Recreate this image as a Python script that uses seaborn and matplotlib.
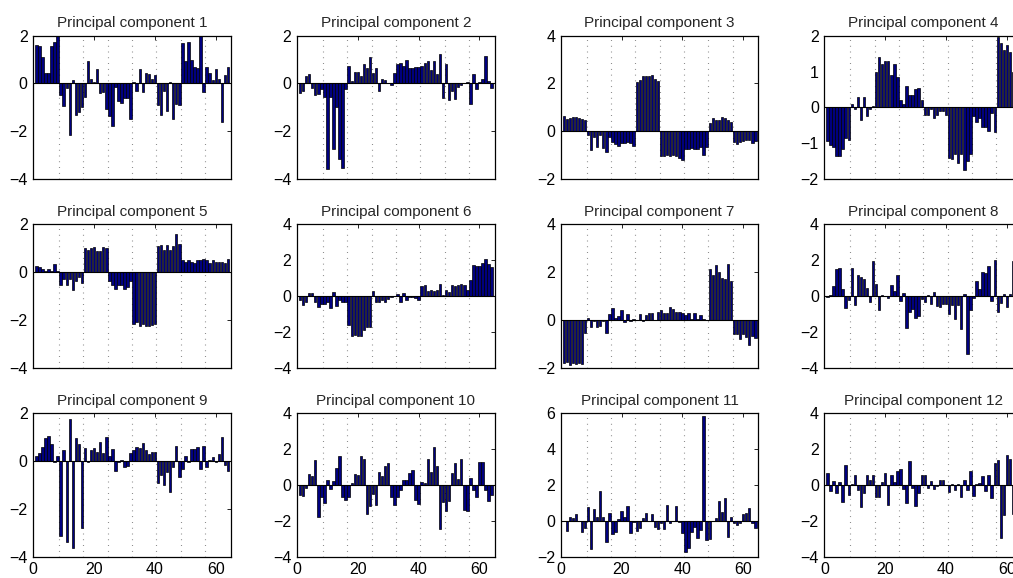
import numpy as np
import pandas as pd
import matplotlib
matplotlib.use("Agg")
import matplotlib.pyplot as plt
import seaborn as sns

# Loadings of the first twelve principal components on 64 variables
variables = np.arange(1, 65)

pc1 = [1.6, 1.55, 1.1, 0.45, 0.45, 1.55, 1.75, 2.0,
       -0.5, -0.95, -0.2, -2.15, 0.15, -1.3, -1.2, -1.0,
       -0.55, 0.95, 0.2, 0.05, 0.6, -0.4, -0.35, -1.05,
       -1.35, -1.8, -0.15, -0.75, -0.8, -0.6, -0.6, -1.5,
       0.05, -0.3, 0.6, -0.35, 0.45, 0.4, 0.2, 0.35,
       -0.9, -1.3, -0.3, -1.15, 0.05, -1.5, -0.85, -0.9,
       1.7, 0.95, 1.75, 1.0, 0.7, 0.65, 2.0, -0.35,
       0.7, 0.45, 0.15, 0.6, 0.2, -1.6, 0.35, 0.7]
pc2 = [-0.4, -0.3, 0.3, 0.4, -0.2, -0.5, -0.45, -0.25,
       -0.55, -3.6, -0.55, -2.75, -1.0, -3.15, -3.55, -0.25,
       0.75, 0.1, 0.5, 0.5, 0.3, 0.8, 0.65, 1.1,
       0.45, 0.65, -0.3, 0.2, 0.15, 0.0, -0.05, 0.45,
       0.8, 0.85, 0.75, 1.0, 0.65, 0.65, 0.7, 0.7,
       0.75, 0.85, 0.95, 0.55, 0.95, 0.4, 1.25, -0.6,
       0.8, -0.7, -0.3, -0.65, -0.15, -0.05, 0.0, 0.05,
       -0.85, 0.4, -0.25, 0.05, 0.2, 1.15, 0.1, -0.2]
pc3 = [0.65, 0.5, 0.55, 0.6, 0.6, 0.55, 0.5, 0.45,
       -0.15, -0.8, -0.25, -0.65, -0.15, -0.7, -0.85, -0.25,
       -0.45, -0.55, -0.6, -0.5, -0.5, -0.45, -0.5, -0.6,
       2.05, 2.15, 2.3, 2.3, 2.3, 2.35, 2.2, 2.1,
       -1.05, -1.05, -1.0, -1.05, -1.0, -1.05, -1.1, -1.2,
       -0.75, -0.75, -0.7, -0.75, -0.75, -0.65, -1.0, -0.65,
       0.35, 0.55, 0.45, 0.45, 0.6, 0.55, 0.45, 0.4,
       -0.45, -0.55, -0.45, -0.4, -0.35, -0.35, -0.5, -0.4]
pc4 = [-0.95, -1.05, -1.1, -1.35, -1.35, -1.15, -0.85, -0.9,
       0.1, -0.05, 0.3, -0.35, 0.3, -0.25, -0.05, 0.05,
       1.0, 1.4, 1.2, 1.3, 1.3, 0.9, 1.2, 0.85,
       0.2, 0.1, 0.6, 0.35, 0.35, 0.5, 0.55, 0.2,
       -0.2, -0.2, -0.05, -0.3, -0.2, -0.1, -0.1, -0.2,
       -1.4, -1.45, -1.3, -1.55, -1.3, -1.75, -1.5, -1.3,
       -0.25, -0.4, -0.3, -0.55, -0.55, -0.65, -0.15, -0.7,
       1.95, 1.8, 1.6, 1.75, 1.55, 1.0, 1.5, 1.6]
pc5 = [0.25, 0.2, 0.15, 0.05, 0.15, 0.05, 0.35, 0.05,
       -0.55, -0.3, -0.55, -0.3, -0.75, -0.35, -0.2, -0.45,
       1.0, 0.95, 1.0, 1.05, 0.9, 0.9, 1.05, 1.0,
       -0.35, -0.55, -0.7, -0.55, -0.55, -0.7, -0.6, -0.35,
       -2.15, -2.1, -2.25, -2.15, -2.25, -2.25, -2.2, -2.15,
       1.1, 1.15, 0.95, 1.15, 0.95, 1.1, 1.6, 1.2,
       0.5, 0.45, 0.5, 0.45, 0.4, 0.5, 0.5, 0.55,
       0.5, 0.4, 0.5, 0.45, 0.45, 0.45, 0.4, 0.55]
pc6 = [-0.2, -0.5, -0.3, 0.15, 0.2, -0.35, -0.6, -0.45,
       -0.45, -0.35, -0.65, 0.25, -0.55, -0.2, -0.3, -0.35,
       -1.6, -2.2, -2.15, -2.25, -2.2, -1.9, -1.75, -1.7,
       0.3, -0.35, -0.35, -0.2, -0.3, -0.15, -0.05, 0.0,
       0.1, -0.3, 0.15, -0.2, -0.05, -0.05, -0.1, -0.2,
       0.55, 0.6, 0.3, 0.35, 0.3, 0.35, 0.7, 0.05,
       0.35, 0.25, 0.65, 0.55, 0.65, 0.7, 0.65, 0.35,
       0.9, 1.75, 1.7, 1.7, 1.85, 2.1, 1.8, 1.65]
pc7 = [-1.8, -1.75, -1.9, -1.8, -1.85, -1.8, -1.85, -0.55,
       0.1, -0.3, -0.05, -0.3, -0.25, -0.05, -0.55, 0.25,
       0.5, 0.1, 0.15, 0.4, -0.1, 0.25, -0.05, 0.05,
       0.0, 0.25, -0.05, 0.2, 0.3, 0.3, 0.0, 0.35,
       0.4, 0.3, 0.3, 0.55, 0.45, 0.35, 0.35, 0.3,
       0.2, 0.3, 0.05, 0.3, 0.05, 0.2, 0.05, 0.0,
       2.15, 1.9, 2.3, 2.0, 1.75, 1.7, 2.35, 1.65,
       -0.6, -0.6, -0.8, -0.6, -0.7, -1.05, -0.65, -0.75]
pc8 = [-0.05, 0.05, 0.55, 1.5, 1.55, 0.4, -0.65, -0.2,
       1.55, -0.5, 1.2, 1.05, 0.95, 0.45, -0.35, 1.95,
       0.7, -0.8, 0.05, 0.0, -0.1, 0.6, 0.3, 1.2,
       -0.25, 0.2, -1.8, -0.9, -0.7, -1.2, -1.1, -0.15,
       -0.3, 0.05, -0.45, 0.25, -0.55, -0.6, -0.45, -0.45,
       -1.0, -0.5, -1.3, -0.5, -1.85, 0.1, -3.25, -0.8,
       -0.1, 0.85, 0.4, 1.35, 1.3, 1.7, -0.25, 2.0,
       -0.9, -0.4, 0.1, -0.6, 0.1, 1.95, 0.5, 1.0]
pc9 = [0.2, 0.35, 0.6, 0.95, 1.05, 0.7, -0.05, 0.2,
       -3.15, 0.45, -3.4, 1.75, -3.65, 0.95, 0.7, -2.8,
       0.55, -0.05, 0.45, 0.55, 0.4, 0.8, 0.35, 1.0,
       0.2, 0.5, -0.4, -0.05, 0.05, -0.25, -0.2, 0.35,
       0.45, 0.6, 0.55, 0.75, 0.45, 0.3, 0.4, 0.4,
       -0.9, -0.6, -1.0, -0.45, -1.3, -0.25, 0.65, -0.65,
       -0.35, 0.2, -0.05, 0.5, 0.5, 0.6, -0.35, 0.65,
       -0.25, 0.05, 0.15, -0.05, 0.3, 1.0, -0.15, -0.4]
pc10 = [-0.55, -0.6, -0.15, 0.6, 0.5, 1.4, -1.8, -0.65,
        -1.0, 0.3, -0.25, 0.2, 0.95, 1.6, -0.7, -0.85,
        -0.7, 0.1, 0.6, 0.55, 1.6, 1.45, -1.6, -1.15,
        -0.5, -1.1, 0.75, 0.5, 1.05, 1.2, -0.65, -1.1,
        -0.65, -0.3, 0.3, 0.25, 0.65, 0.85, -0.85, -1.05,
        0.15, 0.1, 1.45, 0.7, 2.1, 1.05, -2.45, -0.95,
        -1.45, -0.9, 0.65, 1.25, 0.35, 1.45, -1.4, -1.45,
        0.4, -0.3, -0.65, 1.3, 1.3, -0.3, -0.9, -0.55]
pc11 = [0.0, -0.55, 0.2, 0.15, 0.4, 0.0, -0.6, -0.4,
        0.75, -1.6, 0.65, 0.2, 1.65, 0.2, -1.2, 0.45,
        -0.75, -0.6, 0.1, 0.55, 0.2, 0.8, -0.7, -0.05,
        -0.55, -0.4, 0.15, 0.45, 0.0, 0.4, -0.35, -0.45,
        -0.1, -0.45, 0.9, -0.15, 0.0, 0.8, -0.05, -0.7,
        -1.75, -1.5, -0.6, -0.35, -0.95, -0.5, 5.85, -1.05,
        -1.0, 0.0, 0.15, 1.1, 0.5, 1.25, -0.9, 0.2,
        -0.15, -0.25, -0.1, 0.4, 0.45, 0.7, -0.15, -0.4]
pc12 = [0.65, -0.35, 0.2, -0.45, 0.15, -0.95, 1.1, -0.55,
        0.05, 0.55, -0.3, -1.25, -0.45, 0.55, 0.25, 0.55,
        -0.65, -0.65, 0.15, 0.65, -1.1, 0.55, 0.15, 0.8,
        0.9, -0.2, -1.0, 1.35, -0.15, -1.2, -0.45, 0.55,
        0.55, -0.15, 0.2, -0.2, -0.05, 0.25, 0.3, 0.0,
        -0.4, 0.05, -0.3, 0.05, -0.65, 0.25, -0.3, 0.8,
        -0.6, 0.05, 0.1, 0.5, -0.35, 0.55, -0.75, 1.25,
        1.4, -2.95, -1.7, 1.65, 1.45, -1.6, 0.8, -0.5]

components = [pc1, pc2, pc3, pc4, pc5, pc6, pc7, pc8, pc9, pc10, pc11, pc12]
titles = [f"Principal component {k}" for k in range(1, 13)]
y_ranges = [(-4, 2), (-4, 2), (-2, 4), (-2, 2),
            (-4, 2), (-4, 4), (-2, 4), (-4, 4),
            (-4, 2), (-4, 4), (-2, 6), (-4, 4)]
x_ticks = [0, 20, 40, 60]
group_edges = np.arange(8.5, 64, 8)

sns.set_style("white")
plt.rcParams["font.family"] = ["Liberation Sans", "DejaVu Sans"]
plt.rcParams["axes.unicode_minus"] = True

W, H = 1013, 578
fig = plt.figure(figsize=(W / 100, H / 100), dpi=100)
fig.patch.set_facecolor("white")

col_left = [33.3, 297.0, 560.7, 824.4]
row_top = [35.7, 224.5, 413.3]
ax_w, ax_h = 197.7, 143.3

bar_color = "#00007f"

for k, (vals, title, (y0, y1)) in enumerate(zip(components, titles, y_ranges)):
    r, c = divmod(k, 4)
    left = col_left[c] / W
    bottom = 1 - (row_top[r] + ax_h) / H
    ax = fig.add_axes([left, bottom, ax_w / W, ax_h / H])

    df = pd.DataFrame({"variable": variables, "loading": vals})
    # dotted separators between blocks of eight variables
    for xe in group_edges:
        ax.axvline(xe, color="#6f6f6f", lw=0.8, linestyle=(0, (0.7, 4.5)), zorder=0)
    sns.barplot(data=df, x="variable", y="loading", native_scale=True,
                color=bar_color, saturation=1, width=0.8,
                edgecolor="black", linewidth=0.5, errorbar=None, ax=ax, zorder=2)
    ax.axhline(0, color="black", lw=0.8, zorder=3)

    ax.set_xlim(0, 65)
    ax.set_ylim(y0, y1)
    step = 1 if (y1 - y0) <= 4 else 2
    ax.set_yticks(np.arange(y0, y1 + 0.01, step))
    ax.set_xticks(x_ticks)
    if r < 2:
        ax.set_xticklabels([])
    ax.set_xlabel("")
    ax.set_ylabel("")
    ax.set_title(title, fontsize=11, pad=6)
    ax.tick_params(direction="in", length=3, width=0.6, top=True, right=True,
                   labelsize=11.5, pad=4, colors="black")
    for s in ax.spines.values():
        s.set_visible(True)
        s.set_color("black")
        s.set_linewidth(0.9)
    ax.set_facecolor("white")

fig.savefig("out.png", dpi=100, facecolor="white")
